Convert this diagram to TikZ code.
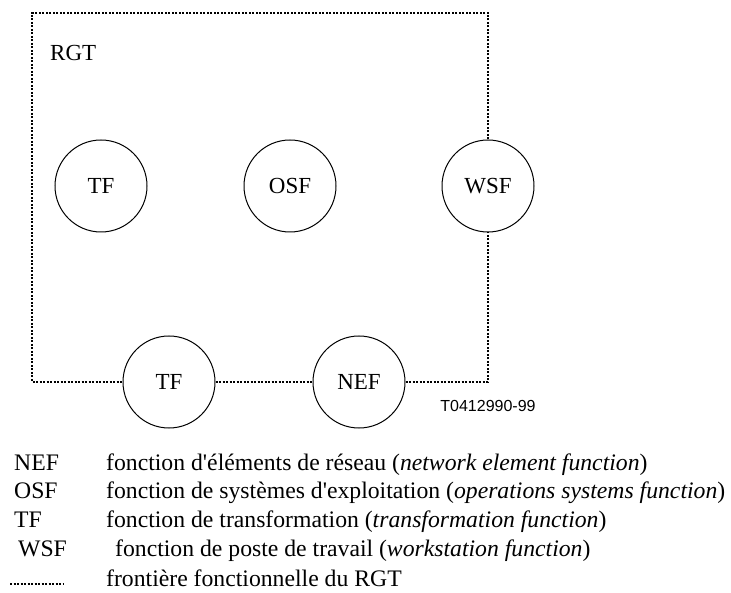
\documentclass[tikz,border=0pt]{standalone}
\usepackage{fontspec}
\setmainfont{Liberation Serif}[Ligatures=TeXOff]
\newfontfamily\sansf{Liberation Sans}
\begin{document}
\begin{tikzpicture}[x=1pt,y=-1pt,
  func/.style={draw,circle,line width=1pt,minimum size=92pt,inner sep=0pt,font=\fontsize{23}{26}\selectfont},
  boundary/.style={line width=1.6pt,dash pattern=on 2pt off 1.5pt},
  lbl/.style={anchor=base west,inner sep=0pt,text depth=0pt,font=\fontsize{23.7}{28}\selectfont}]
\useasboundingbox (0,0) rectangle (731,593);
% functional blocks
\node[func] (tf1) at (101,186) {TF};
\node[func] (osf) at (290,186) {OSF};
\node[func] (wsf) at (488,186) {WSF};
\node[func] (tf2) at (169,382) {TF};
\node[func] (nef) at (359,382) {NEF};
% boundary corners
\coordinate (ctr) at (488,13);
\coordinate (ctl) at (32,13);
\coordinate (cbl) at (32,382);
\coordinate (cbr) at (488,382);
\draw[boundary] (wsf.north) -- (ctr) -- (ctl) -- (cbl) -- (tf2.west);
\draw[boundary] (tf2.east) -- (nef.west);
\draw[boundary] (nef.east) -- (cbr) -- (wsf.south);
\node[lbl,font=\fontsize{23}{26}\selectfont] (rgt) at (50,61) {RGT};
\node[inner sep=0pt,font=\sansf\fontsize{16}{18}\selectfont] (ref) at (488,406) {T0412990-99};
% legend
\node[lbl] (k1) at (14,470) {NEF};
\node[lbl] (d1) at (106,470) {fonction d'éléments de réseau (\textit{network element function})};
\node[lbl] (k2) at (14,498) {OSF};
\node[lbl] (d2) at (106,498) {fonction de systèmes d'exploitation (\textit{operations systems function})};
\node[lbl] (k3) at (14,527) {TF};
\node[lbl] (d3) at (106,527) {fonction de transformation (\textit{transformation function})};
\node[lbl] (k4) at (18,556) {WSF};
\node[lbl] (d4) at (115,556) {fonction de poste de travail (\textit{workstation function})};
\coordinate (l1) at (10,584);
\coordinate (l2) at (64,584);
\draw[boundary] (l1) -- (l2);
\node[lbl] (d5) at (106,586) {frontière fonctionnelle du RGT};
\end{tikzpicture}
\end{document}
